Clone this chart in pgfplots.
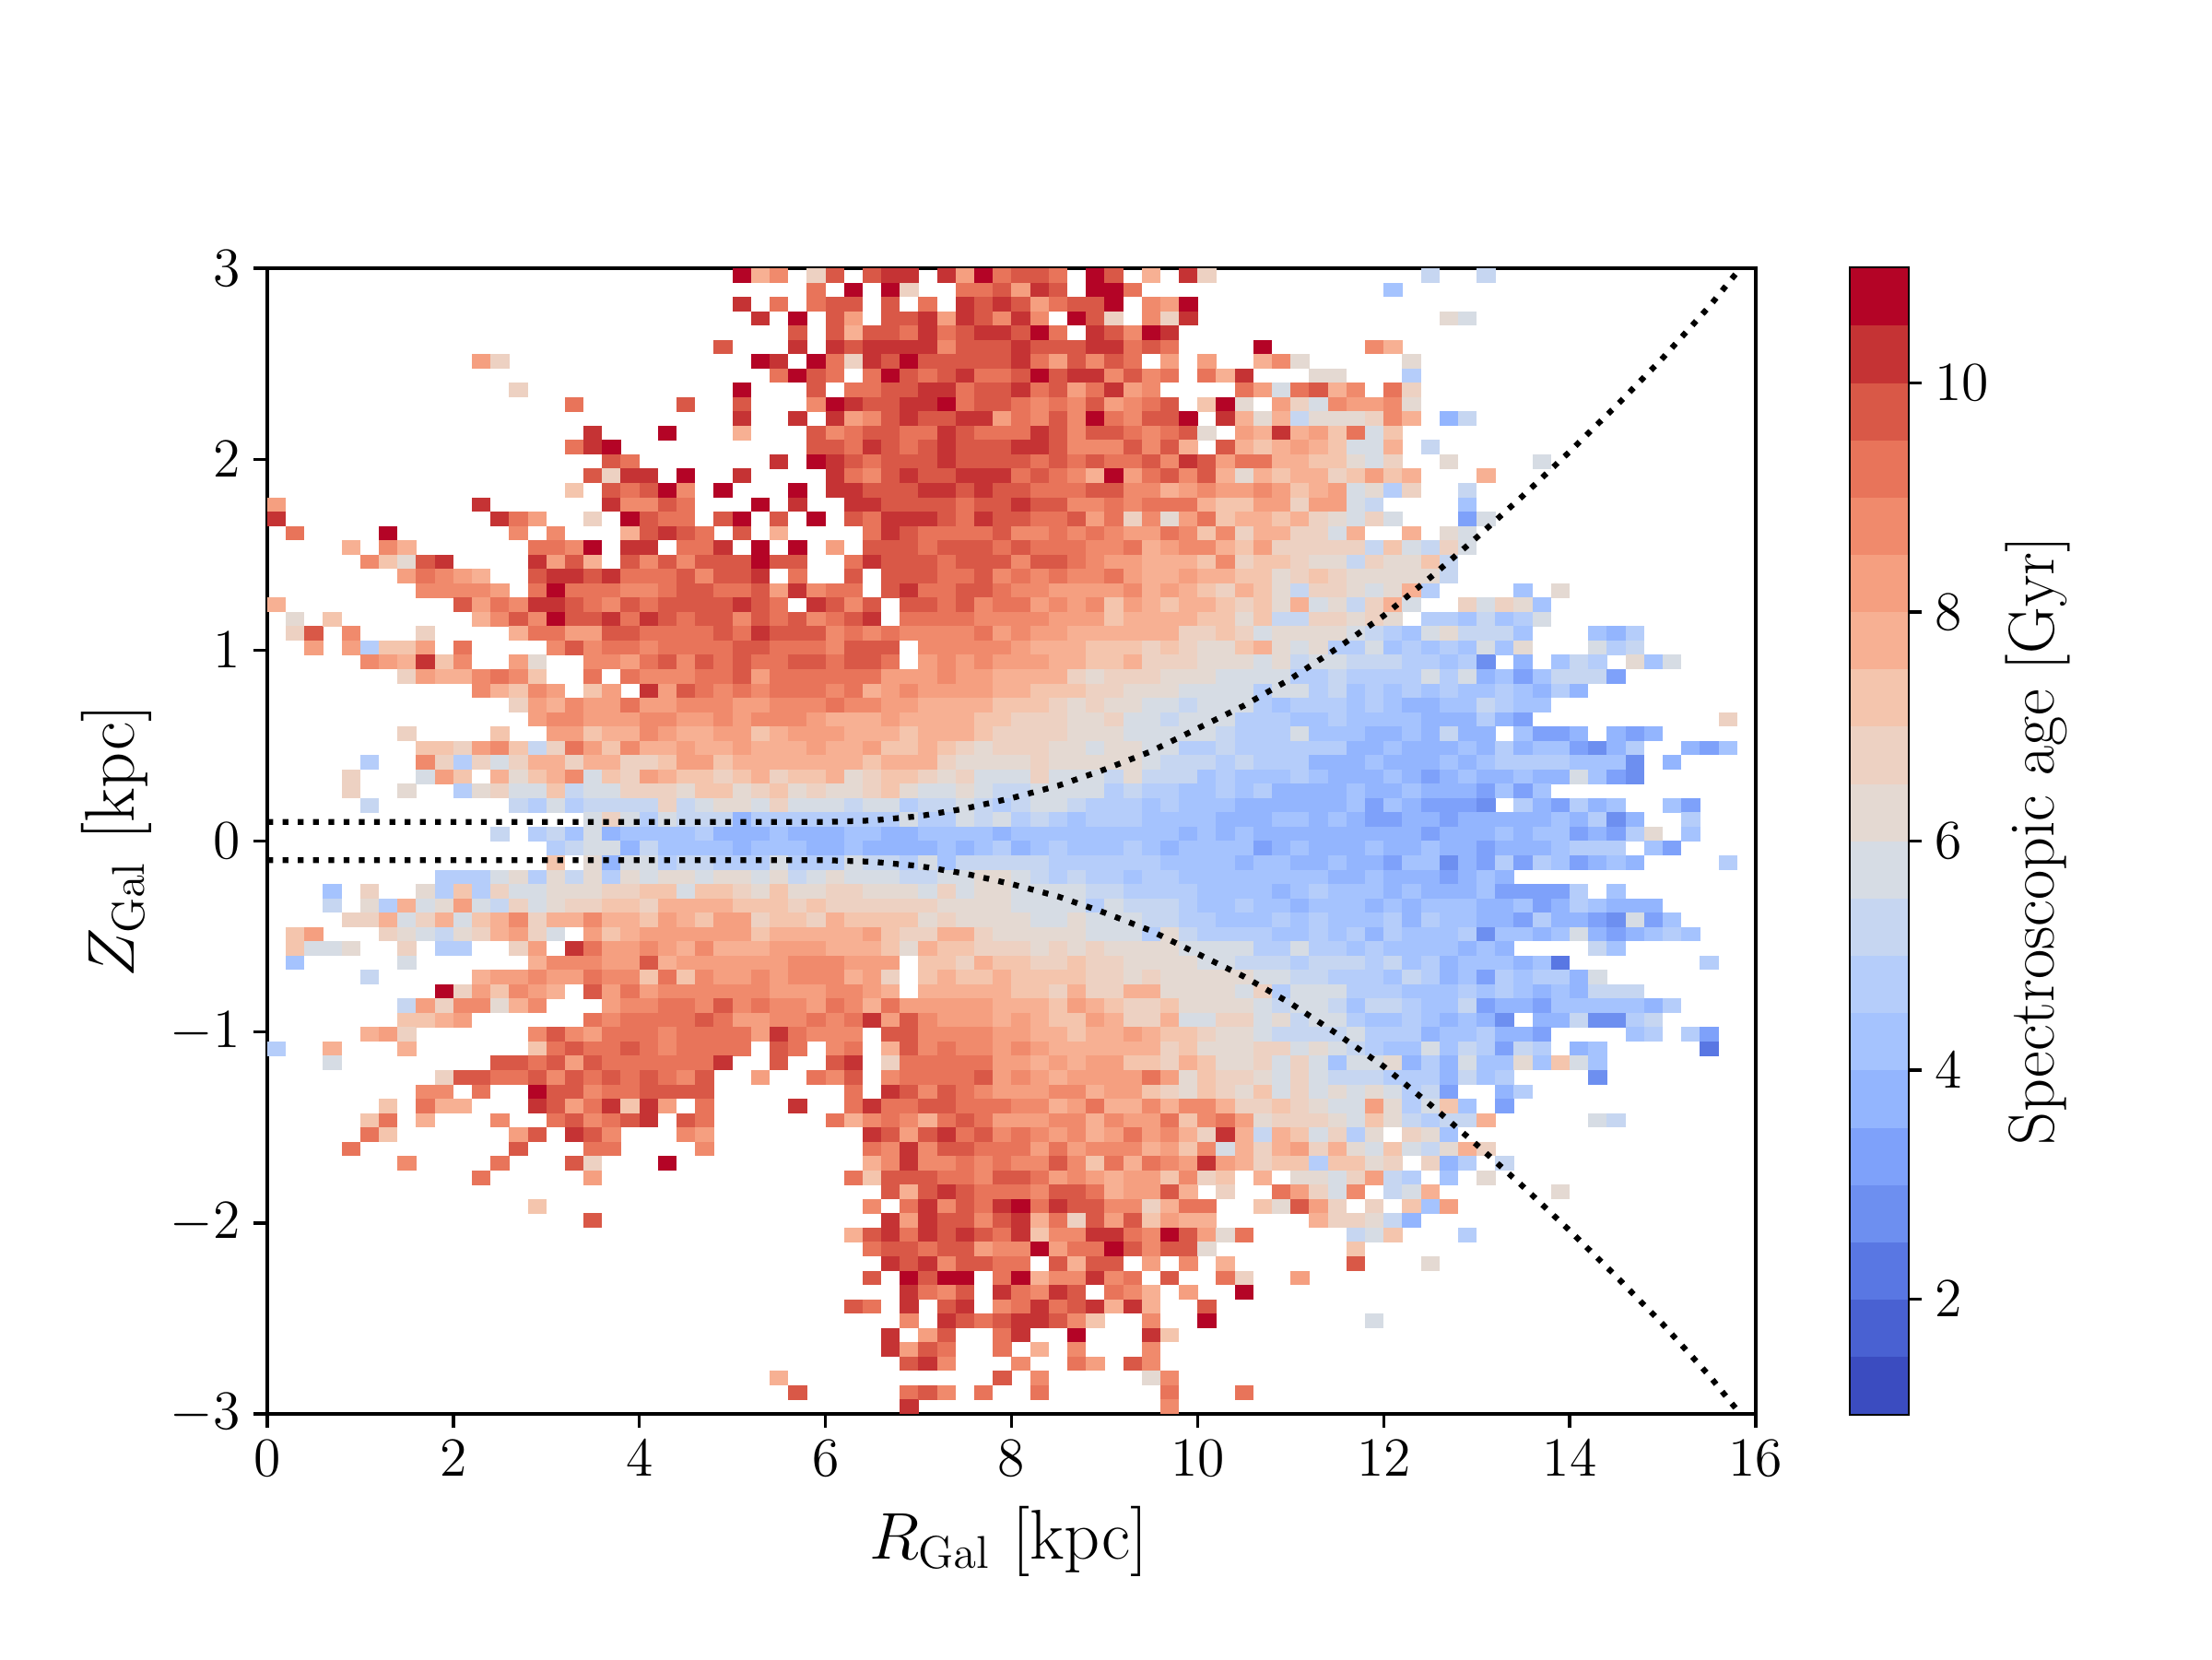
\documentclass[border=0pt]{standalone}
\usepackage{pgfplots}
\pgfplotsset{compat=1.18}
\usepackage{pgfplotstable}

% 1 px of the 2400x1800 picture = 0.24bp
\pgfdeclareplotmark{agecell}{\pgfpathrectangle{\pgfpoint{-2.45bp}{-1.89bp}}{\pgfpoint{4.9bp}{3.78bp}}\pgfusepathqfill}
\pgfdeclareplotmark{barcell}{\pgfpathrectangle{\pgfpoint{-7.45bp}{-7.52bp}}{\pgfpoint{14.9bp}{15.04bp}}\pgfusepathqfill}

\pgfplotsset{
  colormap={agecw}{
    rgb255=(59,76,192) rgb255=(73,97,210) rgb255=(89,119,227) rgb255=(109,143,240)
    rgb255=(126,161,250) rgb255=(147,181,254) rgb255=(165,195,254) rgb255=(181,205,250)
    rgb255=(198,214,241) rgb255=(214,220,228) rgb255=(228,217,210) rgb255=(237,209,194)
    rgb255=(244,197,173) rgb255=(247,176,147) rgb255=(245,159,128) rgb255=(240,138,108)
    rgb255=(232,116,90) rgb255=(217,88,71) rgb255=(197,51,52) rgb255=(180,4,38)
  },
  cellaxis/.style={
    scale only axis,
    axis line style={line width=0.8bp},
    tick style={line width=0.8bp, black},
    major tick length=3.5bp,
    tick align=outside,
    tick label style={font=\fontsize{15}{17}\selectfont},
    point meta min=1, point meta max=20,
  },
}

% first column: Z of the row; then 80 bins in R, colour level 1..20 (0.5 Gyr each from 1 Gyr), 0 = empty
\pgfplotstableread[header=false]{
2.9625  0 0 0 0 0 0 0 0 0 0  0 0 0 0 0 0 0 0 0 0  0 0 0 0 0 20 14 16 0 12  18 0 18 19 19 0 19 15 20 17  18 18 17 0 20 18 0 14 0 19  12 0 0 0 0 0 0 0 0 0  0 0 9 0 0 9 0 0 0 0  0 0 0 0 0 0 0 0 0 0
2.8875  0 0 0 0 0 0 0 0 0 0  0 0 0 0 0 0 0 0 0 0  0 0 0 0 0 0 0 0 0 17  0 20 0 20 12 0 0 17 17 18  15 19 18 0 20 20 17 0 0 0  0 0 0 0 0 0 0 0 0 0  7 0 0 0 0 0 0 0 0 0  0 0 0 0 0 0 0 0 0 0
2.8125  0 0 0 0 0 0 0 0 0 0  0 0 0 0 0 0 0 0 0 0  0 0 0 0 0 19 0 17 0 17  18 18 0 18 0 17 0 19 18 19  18 15 17 18 18 20 0 16 15 20  0 0 0 0 0 0 0 0 0 0  0 0 0 0 0 0 0 0 0 0  0 0 0 0 0 0 0 0 0 0
2.7375  0 0 0 0 0 0 0 0 0 0  0 0 0 0 0 0 0 0 0 0  0 0 0 0 0 0 19 0 20 0  18 15 0 18 18 19 15 19 18 16  19 16 0 20 18 12 0 16 12 19  0 0 0 0 0 0 0 0 0 0  0 0 0 11 10 0 0 0 0 0  0 0 0 0 0 0 0 0 0 0
2.6625  0 0 0 0 0 0 0 0 0 0  0 0 0 0 0 0 0 0 0 0  0 0 0 0 0 0 0 0 18 0  18 14 18 18 17 19 17 18 19 19  18 20 17 0 19 18 16 20 19 0  0 0 0 0 0 0 0 0 0 0  0 0 0 0 0 0 0 0 0 0  0 0 0 0 0 0 0 0 0 0
2.5875  0 0 0 0 0 0 0 0 0 0  0 0 0 0 0 0 0 0 0 0  0 0 0 0 18 0 0 0 19 0  19 18 19 19 19 19 16 18 18 18  19 18 18 18 19 19 17 18 17 0  0 0 0 20 0 0 0 0 0 16  14 0 0 0 0 0 0 0 0 0  0 0 0 0 0 0 0 0 0 0
2.5125  0 0 0 0 0 0 0 0 0 0  0 15 12 0 0 0 0 0 0 0  0 0 0 0 0 0 20 19 0 20  17 12 19 18 20 18 18 18 18 18  19 17 15 18 16 18 17 0 15 0  15 0 0 14 16 11 0 0 0 0  0 11 0 0 0 0 0 0 0 0  0 0 0 0 0 0 0 0 0 0
2.4375  0 0 0 0 0 0 0 0 0 0  0 0 0 0 0 0 0 0 0 0  0 0 0 0 0 0 0 17 20 18  17 0 17 20 18 17 18 19 17 17  18 20 18 19 19 16 18 16 17 0  17 14 19 0 0 0 11 11 0 0  0 8 0 0 0 0 0 0 0 0  0 0 0 0 0 0 0 0 0 0
2.3625  0 0 0 0 0 0 0 0 0 0  0 0 0 12 0 0 0 0 0 0  0 0 0 0 0 20 0 0 0 18  0 17 17 18 18 19 19 17 18 18  19 17 18 15 17 19 15 16 0 0  0 0 17 15 10 17 18 14 16 0  17 12 0 0 0 0 0 0 0 0  0 0 0 0 0 0 0 0 0 0
2.2875  0 0 0 0 0 0 0 0 0 0  0 0 0 0 0 0 17 0 0 0  0 0 18 0 0 18 0 0 0 16  20 19 18 18 19 19 20 17 18 18  17 16 17 16 18 15 16 17 18 0  13 20 11 0 15 12 10 16 15 15  16 11 0 0 0 0 0 0 0 0  0 0 0 0 0 0 0 0 0 0
2.2125  0 0 0 0 0 0 0 0 0 0  0 0 0 0 0 0 0 0 0 0  0 0 0 0 0 19 0 0 19 0  19 15 16 18 19 18 18 19 19 15  17 16 18 16 20 17 16 18 18 20  0 19 14 11 14 9 11 11 11 12  16 14 0 6 9 0 0 0 0 0  0 0 0 0 0 0 0 0 0 0
2.1375  0 0 0 0 0 0 0 0 0 0  0 0 0 0 0 0 0 19 0 0  0 20 0 0 0 14 0 0 0 18  16 17 18 18 17 17 19 18 17 17  17 19 18 16 18 18 17 16 17 18  11 0 15 14 19 14 15 13 17 10  13 0 0 0 0 0 0 0 0 0  0 0 0 0 0 0 0 0 0 0
2.0625  0 0 0 0 0 0 0 0 0 0  0 0 0 0 0 0 17 19 20 0  0 0 0 0 0 0 0 0 0 18  18 17 19 18 17 18 19 18 18 18  19 19 18 16 16 16 18 16 18 14  0 18 14 13 14 15 14 13 10 10  14 0 9 0 0 0 0 0 0 0  0 0 0 0 0 0 0 0 0 0
1.9875  0 0 0 0 0 0 0 0 0 0  0 0 0 0 0 0 0 0 18 17  0 0 0 0 0 0 0 19 0 20  19 18 17 18 18 18 19 18 18 18  18 17 18 17 18 17 17 18 16 19  18 15 17 17 14 14 13 13 11 10  12 0 0 11 0 0 0 0 10 0  0 0 0 0 0 0 0 0 0 0
1.9125  0 0 0 0 0 0 0 0 0 0  0 0 0 0 0 0 0 18 12 19  19 0 20 0 0 19 0 0 0 0  19 17 16 18 19 18 18 19 19 19  17 18 17 16 14 20 15 17 18 16  18 14 11 14 13 14 14 12 13 15  13 14 0 0 0 14 0 0 0 0  0 0 0 0 0 0 0 0 0 0
1.8375  0 0 0 0 0 0 0 0 0 0  0 0 0 0 0 0 13 0 18 17  18 20 16 0 20 0 0 0 20 0  19 19 18 18 18 19 19 18 19 18  18 17 17 17 18 18 16 16 14 15  16 15 15 16 15 13 14 15 10 11  8 12 0 0 9 0 0 0 0 0  0 0 0 0 0 0 0 0 0 0
1.7625  15 0 0 0 0 0 0 0 0 0  0 19 0 0 0 0 0 0 19 16  16 18 17 0 0 0 20 0 19 0  0 19 19 18 18 18 18 17 18 18  19 18 18 16 16 17 16 17 17 17  14 13 13 15 15 12 15 15 10 9  0 0 0 0 7 0 0 0 0 0  0 0 0 0 0 0 0 0 0 0
1.6875  19 0 0 0 0 0 0 0 0 0  0 0 19 17 15 0 0 12 0 20  18 17 17 0 18 20 0 18 0 20  0 18 17 19 19 19 18 17 19 18  18 17 17 18 15 17 12 16 11 15  17 13 14 14 13 14 12 11 10 12  10 0 0 0 5 10 0 0 0 0  0 0 0 0 0 0 0 0 0 0
1.6125  0 17 0 0 0 0 20 0 0 0  0 0 0 16 0 16 0 0 0 14  18 19 18 17 0 18 0 14 0 0  0 0 17 19 18 17 17 17 17 18  16 16 17 16 17 16 15 15 17 16  13 16 12 14 14 12 12 10 14 0  0 14 0 11 10 0 0 0 0 0  0 0 0 0 0 0 0 0 0 0
1.5375  0 0 0 0 14 0 16 14 0 0  0 0 0 0 17 17 16 20 0 19  19 0 17 17 19 0 20 0 20 0  15 0 18 18 18 17 18 18 18 17  18 17 17 17 16 16 17 14 15 16  16 14 13 15 12 12 12 12 12 9  13 10 9 12 10 0 0 0 0 0  0 0 0 0 0 0 0 0 0 0
1.4625  0 0 0 0 0 16 13 11 18 19  0 0 0 0 19 15 18 14 0 18  16 18 16 18 18 18 20 18 18 0  0 17 19 18 18 18 17 18 18 18  16 18 18 17 16 15 15 14 14 14  13 16 12 13 13 12 11 11 9 12  11 11 13 9 0 0 0 0 0 0  0 0 0 0 0 0 0 0 0 0
1.3875  0 0 0 0 0 0 0 15 17 16  15 14 0 0 18 19 19 18 19 17  17 17 18 16 18 18 19 0 17 0  0 18 0 18 18 18 17 17 18 16  17 16 17 16 16 17 15 14 14 15  14 14 13 13 11 12 13 12 11 11  11 11 11 9 0 0 0 0 0 0  0 0 0 0 0 0 0 0 0 0
1.3125  0 0 0 0 0 0 0 0 16 16  16 16 15 0 17 20 17 17 17 16  16 17 18 18 17 17 18 15 19 16  17 17 0 18 19 17 17 18 18 17  16 16 15 15 15 15 16 14 15 14  13 12 14 13 11 9 12 12 11 10  11 14 8 0 0 0 0 7 0 11  0 0 0 0 0 0 0 0 0 0
1.2375  14 0 0 0 0 0 0 0 0 0  18 15 17 16 19 19 18 17 16 18  17 18 18 18 18 19 18 17 0 19  18 16 18 0 18 18 17 18 16 17  17 15 16 15 16 13 15 14 13 14  14 13 12 13 11 14 10 11 9 12  14 10 0 0 12 10 12 11 7 0  0 0 0 0 0 0 0 0 0 0
1.1625  0 11 0 13 0 0 0 0 0 0  0 14 16 18 16 20 18 18 19 17  19 18 17 18 18 16 18 17 18 16  17 18 19 0 17 17 17 17 16 16  16 16 15 15 15 13 14 14 14 14  13 13 11 13 9 9 12 12 11 12  11 0 8 8 7 9 7 8 10 0  0 0 0 0 0 0 0 0 0 0
1.0875  0 12 18 0 16 0 0 0 12 0  0 0 0 14 17 17 15 15 18 18  17 17 17 17 18 17 19 18 18 18  16 17 16 17 16 16 16 16 17 15  16 15 15 14 14 14 14 14 14 12  12 13 12 10 11 11 11 11 10 9  8 7 10 11 9 9 9 7 0 0  0 7 6 8 0 0 0 0 0 0
1.0125  0 0 15 0 15 8 13 13 15 0  17 0 0 0 0 16 18 16 17 17  16 17 17 17 17 18 18 17 17 17  16 18 18 18 0 16 16 16 16 16  15 14 14 14 13 13 13 12 13 12  11 11 13 14 11 10 11 8 8 10  7 8 7 8 7 10 7 11 0 0  0 10 8 9 0 0 0 0 0 0
0.9375  0 0 0 0 0 16 15 14 19 13  16 0 0 15 11 0 0 16 16 15  17 18 16 18 17 18 17 17 18 18  17 18 18 17 0 15 16 15 16 15  15 15 14 14 13 13 14 12 12 12  11 11 11 10 11 9 10 10 9 9  9 8 8 7 8 4 0 6 0 7  9 8 0 11 7 10 0 0 0 0
0.8625  0 0 0 0 0 0 0 12 15 14  14 16 17 16 13 0 0 17 0 17  16 16 16 17 17 18 15 17 17 17  17 17 17 15 15 15 16 15 15 14  14 14 14 12 11 12 12 12 11 11  11 10 10 10 10 8 8 9 8 8  8 8 10 8 10 6 7 5 7 9  9 9 5 0 0 0 0 0 0 0
0.7875  0 0 0 0 0 0 0 0 0 0  0 16 14 13 16 15 0 13 15 0  19 15 18 17 16 17 16 17 17 17  16 17 14 15 16 15 15 15 15 14  14 13 13 13 12 12 11 11 11 10  10 10 10 8 10 10 8 9 7 8  7 8 7 8 7 7 8 7 6 8  6 0 0 0 0 0 0 0 0 0
0.7125  0 0 0 0 0 0 0 0 0 0  0 0 0 12 15 14 16 15 15 17  15 15 16 16 16 15 15 16 16 16  17 16 16 15 15 14 14 14 14 13  13 13 12 11 12 11 11 10 10 9  10 10 10 8 7 8 8 8 7 8  7 6 6 7 7 9 8 7 7 0  0 0 0 0 0 0 0 0 0 0
0.6375  0 0 0 0 0 0 0 0 0 0  0 0 0 0 15 16 16 15 15 15  16 16 15 15 16 15 16 16 16 15  14 14 14 15 14 14 14 14 13 13  12 12 12 11 11 12 10 10 9 10  10 10 8 8 8 7 7 8 7 7  7 7 6 6 6 8 6 5 0 0  0 0 0 0 0 0 0 0 12 0
0.5625  0 0 0 0 0 0 0 12 0 0  0 0 13 0 0 15 15 13 14 14  16 15 14 14 15 15 13 14 15 15  15 14 14 14 13 14 14 14 13 12  12 12 12 11 11 11 10 10 10 10  10 9 8 8 8 10 7 7 7 6  6 7 6 9 6 6 0 7 5 5  6 0 6 5 6 0 0 0 0 0
0.4875  0 0 0 0 0 0 0 0 13 13  12 15 16 13 9 12 17 15 13 16  14 14 15 14 14 15 14 14 14 15  14 14 15 13 13 14 13 12 11 12  12 12 11 11 10 11 11 10 10 8  8 9 8 8 8 8 8 8 6 6  7 6 6 6 7 6 8 6 7 7  5 4 6 8 0 0 6 5 7 0
0.4125  0 0 0 0 0 8 0 0 16 12  8 12 10 12 14 14 12 14 14 12  12 13 15 15 13 14 14 14 14 14  14 14 13 14 14 14 12 11 11 11  11 12 11 11 11 11 11 10 9 9  9 8 9 8 8 8 6 6 6 7  6 6 6 7 6 7 8 8 8 8  7 7 7 4 0 6 0 0 0 0
0.3375  0 0 0 0 12 0 0 0 10 15  13 0 14 11 13 14 16 10 13 12  15 14 13 13 12 13 14 12 13 13  14 11 12 13 13 12 11 12 10 10  10 12 10 10 10 9 11 9 9 9  7 8 7 7 7 8 7 6 6 6  7 6 5 6 7 6 6 7 6 6  10 7 5 4 0 0 0 0 0 0
0.2625  0 0 0 0 12 0 0 11 0 0  8 11 12 10 10 13 9 10 10 12  12 12 11 13 13 11 12 13 11 12  11 11 12 13 11 10 10 11 10 9  9 10 10 10 10 8 9 8 8 7  7 8 7 8 6 6 6 6 7 6  6 7 6 6 6 5 7 5 7 0  0 0 0 0 0 0 0 0 0 0
0.1875  0 0 0 0 0 9 0 0 0 0  0 0 0 9 8 10 8 9 9 9  9 12 9 10 11 11 10 12 10 10  10 9 10 10 8 9 9 10 9 8  9 10 10 9 8 8 8 7 8 7  7 7 6 6 6 6 6 6 7 5  7 6 5 5 5 4 0 8 6 5  8 6 7 0 0 7 5 0 0 0
0.1125  0 0 0 0 0 0 0 0 0 0  0 0 0 0 0 0 0 10 12 10  8 10 9 9 9 6 8 8 8 8  8 8 8 8 10 8 8 10 9 10  8 9 8 7 8 8 8 7 7 7  7 6 6 6 7 7 6 7 6 5  5 6 6 5 6 6 6 6 6 7  6 8 4 6 0 0 8 0 0 0
0.0375  0 0 0 0 0 0 0 0 0 0  0 0 9 0 8 9 7 10 6 7  7 7 7 8 6 6 6 7 6 6  6 7 7 6 6 7 7 7 7 6  7 7 7 7 7 7 7 7 7 6  7 6 7 6 6 6 6 6 6 6  6 6 5 6 6 6 7 6 7 7  5 6 5 8 11 0 7 0 0 0
-0.0375  0 0 0 0 0 0 0 0 0 0  0 0 0 0 0 8 9 10 10 6  9 7 7 7 7 6 7 7 7 6  6 7 6 6 6 6 7 6 7 8  6 7 8 7 7 7 8 7 6 7  7 7 7 5 6 7 6 6 6 7  6 6 7 6 6 5 6 6 6 7  8 8 8 0 7 5 0 0 0 0
-0.1125  0 0 0 0 0 0 0 0 0 0  0 0 0 0 0 13 0 11 6 10  10 8 9 9 8 8 8 10 8 8  8 10 9 9 8 10 7 9 9 9  9 9 8 8 8 8 8 8 7 7  7 7 6 7 7 6 6 7 6 6  5 7 7 4 6 5 8 5 8 7  5 6 7 6 0 0 0 0 8 0
-0.1875  0 0 0 0 0 0 0 0 0 8  8 8 10 11 8 11 9 11 8 11  10 11 11 10 11 11 10 11 9 10  11 10 10 10 9 9 10 10 11 11  10 9 8 9 8 8 7 8 8 7  7 7 7 7 7 7 7 6 6 7  6 6 6 5 6 7 6 0 0 0  0 0 0 0 0 0 0 0 0 0
-0.2625  0 0 0 7 0 12 0 0 11 8  13 8 12 10 10 11 11 11 12 12  13 13 10 13 13 12 11 13 11 11  12 12 11 11 11 10 12 10 11 11  10 10 10 10 9 9 8 8 8 8  7 7 7 7 6 7 8 7 7 7  6 7 6 6 6 7 5 5 5 5  8 0 7 0 0 0 0 0 0 0
-0.3375  0 0 0 9 0 11 8 14 10 11  15 10 9 12 10 11 12 12 13 13  12 14 14 14 14 13 13 13 12 13  12 12 12 12 12 12 11 11 11 11  10 10 10 10 8 10 9 9 9 8  7 7 8 7 7 6 7 7 7 6  7 6 7 7 7 6 6 7 5 6  8 7 6 6 6 0 0 0 0 0
-0.4125  0 0 0 0 12 12 14 10 12 14  10 13 14 16 12 14 14 16 14 14  13 15 14 13 15 15 12 13 13 12  14 13 13 13 13 11 12 11 11 11  11 10 10 11 10 10 10 9 9 8  8 7 7 7 8 7 8 7 7 7  8 6 8 7 7 6 6 5 8 6  6 5 4 10 5 7 0 0 0 0
-0.4875  0 13 15 0 0 0 12 11 10 9  11 12 14 15 12 10 0 15 13 14  15 15 15 15 15 15 13 14 14 14  14 14 15 13 12 12 14 14 12 11  11 11 11 11 10 10 10 8 11 9  8 8 8 8 7 7 8 7 8 6  8 7 7 7 8 4 7 7 6 7  10 6 5 6 7 8 7 0 0 0
-0.5625  0 13 10 10 11 0 0 12 0 8  8 0 0 12 15 0 19 17 15 15  16 15 14 16 14 14 14 15 15 15  14 14 14 13 11 14 13 13 12 12  12 11 12 11 12 11 11 11 11 10  10 10 10 8 8 10 8 8 7 8  7 7 7 7 6 7 6 0 0 0  0 9 7 0 0 0 0 0 0 0
-0.6375  0 7 0 0 0 0 0 10 0 0  0 0 0 0 14 16 16 16 15 15  18 14 15 15 15 15 15 15 16 16  16 15 15 15 0 13 13 12 14 13  13 12 12 13 12 12 11 11 11 11  10 10 9 9 9 8 9 9 9 8  9 7 8 6 7 7 7 6 7 3  0 0 0 0 0 0 0 8 0 0
-0.7125  0 0 0 0 0 9 0 0 0 0  0 14 15 15 16 15 15 17 16 16  13 17 13 16 15 15 16 15 16 16  16 14 15 12 0 13 14 13 13 14  13 13 13 13 12 12 11 12 11 11  11 11 11 10 10 9 9 8 8 8  7 9 8 6 7 5 8 7 8 8  6 10 0 0 0 0 0 0 0 0
-0.7875  0 0 0 0 0 0 0 0 0 20  12 15 13 16 15 14 0 18 15 17  15 16 16 16 16 16 16 15 15 15  16 16 15 14 0 14 14 14 14 14  13 13 12 14 12 12 14 14 11 11  11 11 10 12 8 10 10 10 8 8  8 7 7 7 8 7 8 7 6 7  6 9 9 9 0 0 0 0 0 0
-0.8625  0 0 0 0 0 0 0 9 15 12  16 16 11 14 16 0 0 0 15 16  16 17 17 16 18 16 17 16 16 15  17 16 14 17 15 15 15 15 15 14  14 14 13 15 14 13 12 12 13 11  11 11 11 10 9 10 10 9 7 9  9 8 7 7 9 5 6 6 5 7  7 7 7 7 6 8 0 0 0 0
-0.9375  0 0 0 0 0 0 0 13 13 14  15 0 0 0 0 0 0 17 16 17  17 17 17 18 17 15 15 16 16 17  16 17 19 15 18 16 15 15 15 14  15 14 13 13 15 14 12 12 14 10  10 12 12 10 11 9 10 10 8 7  7 8 7 6 7 6 4 0 6 6  9 4 4 8 9 0 0 0 0 0
-1.0125  0 0 0 0 0 14 15 12 0 0  0 0 0 0 16 18 16 15 17 17  17 16 17 17 17 17 15 19 17 16  16 16 0 18 18 16 16 16 16 15  15 14 14 13 14 14 15 14 13 13  12 11 11 10 9 9 9 9 10 8  8 8 6 7 7 8 6 6 5 0  0 0 0 7 8 0 8 5 0 0
-1.0875  8 0 0 14 0 0 0 14 0 0  0 0 0 0 13 17 18 17 17 18  17 16 17 17 17 17 0 18 17 0  16 17 0 14 18 16 17 16 16 15  16 15 14 14 14 14 14 14 12 13  11 11 11 12 12 10 11 10 9 8  7 7 10 7 9 8 5 9 8 0  6 7 0 0 0 0 0 3 0 0
-1.1625  0 0 0 10 0 0 0 0 0 0  0 0 18 18 17 18 15 18 17 17  17 17 17 17 19 0 0 18 0 0  18 19 0 12 17 17 17 17 17 15  15 14 15 14 15 15 13 13 12 14  13 11 11 12 10 12 10 7 10 10  11 6 8 6 10 7 7 11 7 13  10 7 0 0 0 0 0 0 0 0
-1.2375  0 0 0 0 0 0 0 0 0 12  18 18 17 17 18 16 18 17 18 17  18 17 16 18 0 0 15 0 0 17  16 18 0 16 17 17 17 17 18 15  16 15 14 15 15 15 15 17 15 11  13 12 12 11 10 12 10 9 9 9  8 8 8 6 9 7 8 0 0 0  0 4 0 0 0 0 0 0 0 0
-1.3125  0 0 0 0 0 0 0 0 16 16  0 17 0 0 20 18 18 16 17 17  18 18 18 18 0 0 0 0 0 0  0 17 0 19 18 16 18 17 16 15  15 15 16 16 14 15 15 13 12 11  13 12 11 13 10 12 10 11 10 11  10 8 9 5 0 0 6 8 0 0  0 0 0 0 0 0 0 0 0 0
-1.3875  0 0 0 0 0 0 13 0 17 14  14 0 0 0 19 18 15 17 19 13  19 15 0 17 0 0 0 0 19 0  0 17 19 17 17 18 18 17 17 17  16 16 14 15 17 14 14 16 14 16  16 14 12 12 13 12 11 10 10 15  11 8 10 13 7 0 5 0 0 0  0 0 0 0 0 0 0 0 0 0
-1.4625  0 0 0 0 0 13 17 0 14 0  0 0 16 0 0 17 18 16 17 18  19 0 18 17 0 0 0 0 0 0  17 14 16 17 16 14 17 18 17 15  15 15 16 16 14 16 15 15 17 13  16 17 15 11 12 12 12 11 10 13  11 9 8 9 9 14 0 0 0 0  0 10 9 0 0 0 0 0 0 0
-1.5375  0 0 0 0 0 17 13 0 0 0  0 0 0 15 18 0 19 18 16 0  0 0 16 15 0 0 0 0 0 0  0 0 19 18 15 18 19 17 18 16  17 16 15 16 14 15 17 15 16 14  12 19 14 9 14 13 10 12 8 11  0 12 11 7 0 0 0 0 0 0  0 0 0 0 0 0 0 0 0 0
-1.6125  0 0 0 0 17 0 0 0 0 0  0 0 0 18 0 0 0 17 17 0  0 0 0 16 0 0 0 0 0 0  0 0 17 16 19 16 18 18 17 17  17 15 17 15 16 16 16 14 15 13  16 10 14 12 14 15 12 14 11 10  13 10 9 11 14 12 0 0 0 0  0 0 0 0 0 0 0 0 0 0
-1.6875  0 0 0 0 0 0 0 16 0 0  0 0 17 0 0 0 18 12 0 0  0 20 0 0 0 0 0 0 0 0  0 0 14 16 19 16 16 17 16 17  16 16 18 16 13 17 14 17 16 15  19 15 14 12 13 13 8 13 13 11  12 0 12 6 8 0 9 0 0 0  0 0 0 0 0 0 0 0 0 0
-1.7625  0 0 0 0 0 0 0 0 0 0  0 17 0 0 0 0 0 15 0 0  0 0 0 0 0 0 0 0 0 0  0 17 13 18 18 18 17 17 16 18  18 17 15 16 15 14 15 15 13 16  12 13 0 14 0 11 11 10 12 15  9 8 0 7 0 11 0 0 0 0  0 0 0 0 0 0 0 0 0 0
-1.8375  0 0 0 0 0 0 0 0 0 0  0 0 0 0 0 0 0 0 0 0  0 0 0 0 0 0 0 0 0 0  0 0 0 18 14 18 19 18 17 17  17 16 18 18 17 14 15 15 18 14  0 12 0 0 17 15 12 10 16 0  9 10 14 0 0 0 0 0 0 11  0 0 0 0 0 0 0 0 0 0
-1.9125  0 0 0 0 0 0 0 0 0 0  0 0 0 0 13 0 0 0 0 0  0 0 0 0 0 0 0 0 0 0  0 0 16 0 17 19 16 18 17 19  20 17 19 18 18 16 16 12 14 17  17 0 0 13 11 18 15 12 0 12  0 13 7 15 0 0 0 0 0 0  0 0 0 0 0 0 0 0 0 0
-1.9875  0 0 0 0 0 0 0 0 0 0  0 0 0 0 0 0 0 18 0 0  0 0 0 0 0 0 0 0 0 0  0 0 0 19 15 19 18 18 16 18  19 14 17 12 18 15 18 13 15 14  14 0 0 0 0 0 14 12 12 11  9 6 0 0 0 0 0 0 0 0  0 0 0 0 0 0 0 0 0 0
-2.0625  0 0 0 0 0 0 0 0 0 0  0 0 0 0 0 0 0 0 0 0  0 0 0 0 0 0 0 0 0 0  0 14 18 19 17 19 18 19 18 17  19 13 16 16 19 19 17 16 20 18  15 11 17 0 0 0 0 0 9 10  13 0 0 0 8 0 0 0 0 0  0 0 0 0 0 0 0 0 0 0
-2.1375  0 0 0 0 0 0 0 0 0 0  0 0 0 0 0 0 0 0 0 0  0 0 0 0 0 0 0 0 0 0  0 0 17 18 18 17 18 18 15 16  16 20 15 17 17 20 18 16 18 18  11 0 0 0 0 0 0 0 13 0  0 0 0 0 0 0 0 0 0 0  0 0 0 0 0 0 0 0 0 0
-2.2125  0 0 0 0 0 0 0 0 0 0  0 0 0 0 0 0 0 0 0 0  0 0 0 0 0 0 0 0 0 0  0 0 0 19 18 19 16 18 18 17  17 0 18 14 18 18 0 15 0 16  0 14 0 0 0 0 0 0 18 0  0 0 11 0 0 0 0 0 0 0  0 0 0 0 0 0 0 0 0 0
-2.2875  0 0 0 0 0 0 0 0 0 0  0 0 0 0 0 0 0 0 0 0  0 0 0 0 0 0 0 0 0 0  0 0 18 0 20 18 20 20 0 17  20 14 16 16 19 16 17 0 18 0  0 17 12 0 0 15 0 0 0 0  0 0 0 0 0 0 0 0 0 0  0 0 0 0 0 0 0 0 0 0
-2.3625  0 0 0 0 0 0 0 0 0 0  0 0 0 0 0 0 0 0 0 0  0 0 0 0 0 0 0 0 0 0  0 0 0 0 19 17 16 18 0 19  17 16 19 18 0 17 16 14 0 15  0 0 20 0 0 0 0 0 0 0  0 0 0 0 0 0 0 0 0 0  0 0 0 0 0 0 0 0 0 0
-2.4375  0 0 0 0 0 0 0 0 0 0  0 0 0 0 0 0 0 0 0 0  0 0 0 0 0 0 0 0 0 0  0 18 17 0 19 0 18 19 0 16  17 19 17 18 19 14 19 14 0 0  18 0 0 0 0 0 0 0 0 0  0 0 0 0 0 0 0 0 0 0  0 0 0 0 0 0 0 0 0 0
-2.5125  0 0 0 0 0 0 0 0 0 0  0 0 0 0 0 0 0 0 0 0  0 0 0 0 0 0 0 0 0 0  0 0 0 0 16 0 19 18 17 18  19 19 18 16 13 0 0 16 0 0  20 0 0 0 0 0 0 0 0 10  0 0 0 0 0 0 0 0 0 0  0 0 0 0 0 0 0 0 0 0
-2.5875  0 0 0 0 0 0 0 0 0 0  0 0 0 0 0 0 0 0 0 0  0 0 0 0 0 0 0 0 0 0  0 0 0 19 0 15 18 0 0 17  19 0 0 20 0 0 0 19 13 0  0 0 0 0 0 0 0 0 0 0  0 0 0 0 0 0 0 0 0 0  0 0 0 0 0 0 0 0 0 0
-2.6625  0 0 0 0 0 0 0 0 0 0  0 0 0 0 0 0 0 0 0 0  0 0 0 0 0 0 0 0 0 0  0 0 0 19 15 18 17 0 0 17  0 14 0 16 0 0 0 16 0 0  0 0 0 0 0 0 0 0 0 0  0 0 0 0 0 0 0 0 0 0  0 0 0 0 0 0 0 0 0 0
-2.7375  0 0 0 0 0 0 0 0 0 0  0 0 0 0 0 0 0 0 0 0  0 0 0 0 0 0 0 0 0 0  0 0 0 0 18 19 16 0 0 0  16 0 0 17 15 0 18 16 0 0  0 0 0 0 0 0 0 0 0 0  0 0 0 0 0 0 0 0 0 0  0 0 0 0 0 0 0 0 0 0
-2.8125  0 0 0 0 0 0 0 0 0 0  0 0 0 0 0 0 0 0 0 0  0 0 0 0 0 0 0 14 0 0  0 0 0 0 0 0 0 0 0 18  0 16 0 0 0 0 0 11 16 0  0 0 0 0 0 0 0 0 0 0  0 0 0 0 0 0 0 0 0 0  0 0 0 0 0 0 0 0 0 0
-2.8875  0 0 0 0 0 0 0 0 0 0  0 0 0 0 0 0 0 0 0 0  0 0 0 0 0 0 0 0 18 0  0 0 0 0 17 18 16 0 17 0  0 17 0 0 0 0 0 0 17 0  0 0 17 0 0 0 0 0 0 0  0 0 0 0 0 0 0 0 0 0  0 0 0 0 0 0 0 0 0 0
-2.9625  0 0 0 0 0 0 0 0 0 0  0 0 0 0 0 0 0 0 0 0  0 0 0 0 0 0 0 0 0 0  0 0 0 0 19 0 0 0 0 0  0 0 0 0 0 0 0 0 16 0  0 0 0 0 0 0 0 0 0 0  0 0 0 0 0 0 0 0 0 0  0 0 0 0 0 0 0 0 0 0
}\agegrid

\begin{document}
\begin{tikzpicture}
\path[use as bounding box] (0,0) rectangle (576bp,432bp);
\begin{axis}[
    cellaxis,
    at={(69.6bp,63.84bp)}, anchor=south west,
    width=387.6bp, height=298.3bp,
    xmin=0, xmax=16, ymin=-3, ymax=3,
    xtick={0,2,...,16}, ytick={-3,-2,...,3},
    xtick pos=lower, ytick pos=left,
    xlabel={\fontsize{18.4}{22}\selectfont $R_{\mathrm{Gal}}$ [kpc]},
    ylabel={\fontsize{18.4}{22}\selectfont $Z_{\mathrm{Gal}}$ [kpc]},
    xlabel style={at={(axis description cs:0.498,-0.111)}, anchor=center},
    ylabel style={at={(axis description cs:-0.1014,0.5)}, anchor=center},
]
% one scatter per R bin; empty bins go to y=4, above the clipped axis
\pgfplotsinvokeforeach{1,...,80}{
  \addplot[scatter, only marks, mark=agecell, forget plot,
    scatter/use mapped color={draw=none, fill=mapped color},
    point meta=explicit]
    table[x expr={(#1-0.5)*0.2}, y expr={\thisrowno{#1}>0 ? \thisrowno{0} : 4}, meta index=#1] {\agegrid};
}
\end{axis}
% marks are drawn last in an axis, so the dotted curves get their own axis on top
\begin{axis}[
    scale only axis, hide axis,
    at={(69.6bp,63.84bp)}, anchor=south west,
    width=387.6bp, height=298.3bp,
    xmin=0, xmax=16, ymin=-3, ymax=3,
]
\addplot[black, line width=1.5bp, dash pattern=on 1.5bp off 2.475bp] coordinates {
(0,0.1) (5.5,0.1) (6,0.1) (6.5,0.108) (7,0.13) (7.5,0.17) (8,0.225) (8.5,0.29) (9,0.375) (9.5,0.47) (10,0.59) (10.5,0.71) (11,0.85) (11.5,1.01) (12,1.18) (12.5,1.38) (13,1.59) (13.5,1.81) (14,2.04) (14.5,2.28) (15,2.53) (15.5,2.8) (15.8,2.98)};
\addplot[black, line width=1.5bp, dash pattern=on 1.5bp off 2.475bp] coordinates {
(0,-0.1) (5.5,-0.1) (6,-0.1) (6.5,-0.108) (7,-0.13) (7.5,-0.17) (8,-0.225) (8.5,-0.29) (9,-0.375) (9.5,-0.47) (10,-0.59) (10.5,-0.71) (11,-0.85) (11.5,-1.01) (12,-1.18) (12.5,-1.38) (13,-1.59) (13.5,-1.81) (14,-2.04) (14.5,-2.28) (15,-2.53) (15.5,-2.8) (15.8,-2.98)};
\end{axis}
\begin{axis}[
    cellaxis,
    at={(481.9bp,63.84bp)}, anchor=south west,
    width=14.9bp, height=298.3bp,
    xmin=0, xmax=1, ymin=1, ymax=11,
    xtick=\empty, ytick={2,4,6,8,10},
    ytick pos=right, yticklabel pos=right,
    ylabel={\fontsize{16.9}{20}\selectfont Spectroscopic age [Gyr]},
    ylabel near ticks,
    ylabel style={at={(axis description cs:3.27,0.5)}, anchor=center},
]
\addplot[scatter, only marks, mark=barcell,
    scatter/use mapped color={draw=none, fill=mapped color},
    point meta=explicit] coordinates {
(0.5,1.25)[1](0.5,1.75)[2](0.5,2.25)[3](0.5,2.75)[4](0.5,3.25)[5](0.5,3.75)[6](0.5,4.25)[7](0.5,4.75)[8](0.5,5.25)[9](0.5,5.75)[10]
(0.5,6.25)[11](0.5,6.75)[12](0.5,7.25)[13](0.5,7.75)[14](0.5,8.25)[15](0.5,8.75)[16](0.5,9.25)[17](0.5,9.75)[18](0.5,10.25)[19](0.5,10.75)[20]};
\end{axis}
\end{tikzpicture}
\end{document}
